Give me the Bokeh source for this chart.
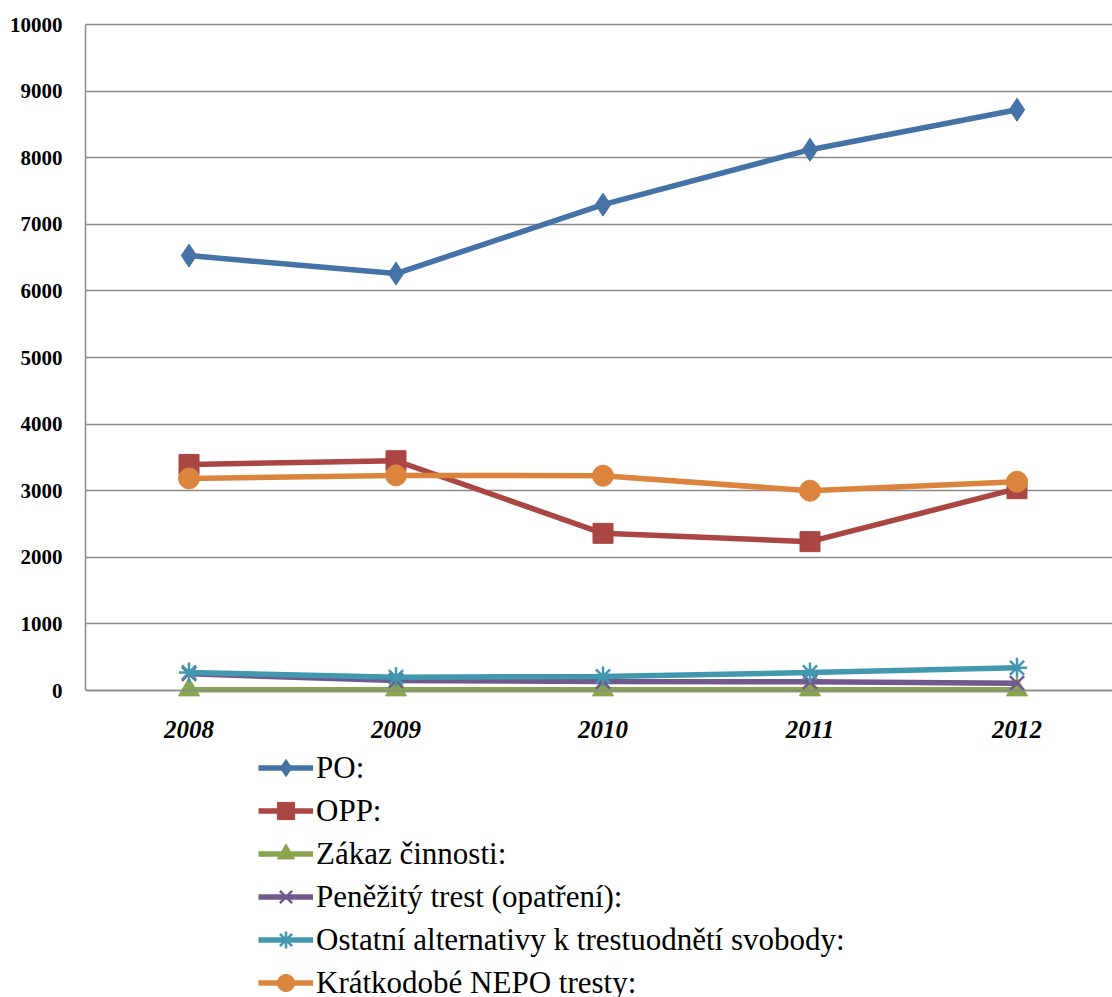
from bokeh.plotting import figure
from bokeh.models import Range1d, FixedTicker, Legend, LegendItem
from bokeh.embed import file_html
from bokeh.resources import INLINE

years = ["2008", "2009", "2010", "2011", "2012"]
po = [6530, 6260, 7295, 8120, 8720]
opp = [3395, 3450, 2360, 2235, 3030]
zakaz = [10, 10, 10, 10, 10]
penezity = [250, 150, 135, 130, 110]
ostatni = [270, 200, 210, 270, 340]
nepo = [3185, 3230, 3225, 3000, 3135]

names = ["PO:", "OPP:", "Zákaz činnosti:", "Peněžitý trest (opatření):",
         "Ostatní alternativy k trestuodnětí svobody:", "Krátkodobé NEPO tresty:"]
series = [po, opp, zakaz, penezity, ostatni, nepo]
colors = ["#4572A7", "#AA4643", "#89A54E", "#71588F", "#4198AF", "#DB843D"]
markers = ["diamond", "square", "triangle", "x", "asterisk", "circle"]
sizes = [23, 20, 21, 20, 20, 21]

SERIF = "'Liberation Serif', 'Times New Roman', serif"

xs = list(range(len(years)))
W, H = 1112, 997
left, top = 85, 22
px_per_cat = 207
px_per_unit = 666 / 10000.0          # 0 -> 10000 spans 666 px
frame_w = W - left
frame_h = H - top
y_end = 10000 + 2 / px_per_unit
y_start = y_end - frame_h / px_per_unit

p = figure(width=W, height=H, output_backend="svg", toolbar_location=None,
           x_range=Range1d(-0.5, -0.5 + frame_w / px_per_cat),
           y_range=Range1d(y_start, y_end),
           min_border_left=left, min_border_right=0, min_border_top=top,
           min_border_bottom=0)
p.outline_line_color = None
p.background_fill_color = "white"

# axes
p.yaxis.ticker = FixedTicker(ticks=list(range(0, 10001, 1000)))
p.yaxis.bounds = (0, 10000)
p.yaxis.major_label_text_font = SERIF
p.yaxis.major_label_text_font_style = "bold"
p.yaxis.major_label_text_font_size = "21px"
p.yaxis.major_label_text_color = "black"
p.yaxis.major_tick_line_color = None
p.yaxis.minor_tick_line_color = None
p.yaxis.major_label_standoff = 17
p.yaxis.axis_line_color = "#8a8a8a"
p.yaxis.axis_line_width = 1.5

p.xaxis.fixed_location = 0
p.xaxis.ticker = FixedTicker(ticks=xs)
p.xaxis.major_label_overrides = {i: y for i, y in zip(xs, years)}
p.xaxis.major_label_text_font = SERIF
p.xaxis.major_label_text_font_style = "bold italic"
p.xaxis.major_label_text_font_size = "25px"
p.xaxis.major_label_text_color = "black"
p.xaxis.major_tick_line_color = None
p.xaxis.minor_tick_line_color = None
p.xaxis.major_label_standoff = 24
p.xaxis.axis_line_color = "#8a8a8a"
p.xaxis.axis_line_width = 1.5

p.xgrid.grid_line_color = None
p.ygrid.grid_line_color = "#8a8a8a"
p.ygrid.grid_line_width = 1.5

items = []
for name, ys, c, m, s in zip(names, series, colors, markers, sizes):
    ln = p.line(xs, ys, line_color=c, line_width=5.5)
    if m in ("x", "asterisk"):
        sc = p.scatter(xs, ys, marker=m, size=s, line_color=c, line_width=2.5)
    else:
        sc = p.scatter(xs, ys, marker=m, size=s, fill_color=c, line_color=c)
    items.append(LegendItem(label=name, renderers=[ln, sc]))

row_h = 43
legend = Legend(items=items, location=(173, -7), orientation="vertical",
                border_line_color=None, background_fill_alpha=0,
                padding=0, margin=0, spacing=0,
                glyph_width=55, glyph_height=row_h, label_height=row_h,
                label_standoff=3,
                label_text_font=SERIF, label_text_font_size="31px",
                label_text_color="black")
p.add_layout(legend, "center")

open("out.html", "w").write(file_html(p, INLINE))
